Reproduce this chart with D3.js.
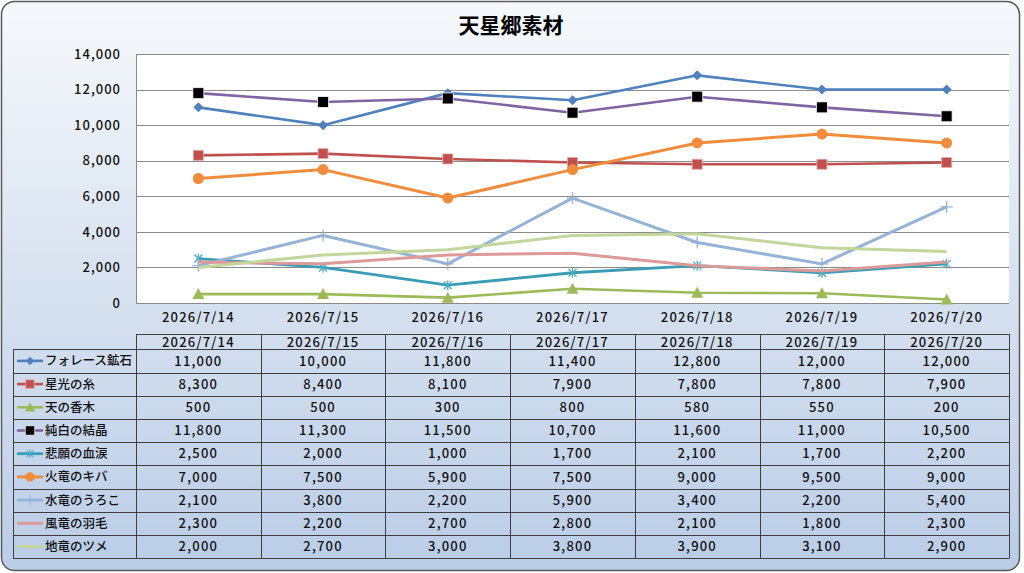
<!DOCTYPE html>
<html><head><meta charset="utf-8">
<script src="https://cdn.jsdelivr.net/npm/d3@7/dist/d3.min.js"></script>
<style>
html,body{margin:0;padding:0;background:#fff;}
svg{display:block;}
text{font-family:"Noto Sans CJK JP","Noto Sans",sans-serif;fill:#111;font-weight:500;}
</style></head>
<body>
<svg id="c" width="1024" height="573"></svg>
<script>
const title = "天星郷素材";
const dates = ["2026/7/14","2026/7/15","2026/7/16","2026/7/17","2026/7/18","2026/7/19","2026/7/20"];
const seriesNames = ["フォレース鉱石","星光の糸","天の香木","純白の結晶","悲願の血涙","火竜のキバ","水竜のうろこ","風竜の羽毛","地竜のツメ"];
const foreceOre   = [11000,10000,11800,11400,12800,12000,12000];
const starThread  = [8300,8400,8100,7900,7800,7800,7900];
const heavenWood  = [500,500,300,800,580,550,200];
const whiteCrystal= [11800,11300,11500,10700,11600,11000,10500];
const tearBlood   = [2500,2000,1000,1700,2100,1700,2200];
const fireFang    = [7000,7500,5900,7500,9000,9500,9000];
const waterScale  = [2100,3800,2200,5900,3400,2200,5400];
const windFeather = [2300,2200,2700,2800,2100,1800,2300];
const earthClaw   = [2000,2700,3000,3800,3900,3100,2900];
const yTicks = [0,2000,4000,6000,8000,10000,12000,14000];

const values = [foreceOre,starThread,heavenWood,whiteCrystal,tearBlood,fireFang,waterScale,windFeather,earthClaw];
const styles = [
  {line:"#4f81bd", mark:"diamond", fill:"#4f81bd", w:2.6},
  {line:"#c0504d", mark:"square", fill:"#c0504d", w:2.6},
  {line:"#9bbb59", mark:"triangle", fill:"#9bbb59", w:2.6},
  {line:"#8064a2", mark:"bsquare", fill:"#000000", w:2.6},
  {line:"#3a9db5", mark:"star", fill:"#4bacc6", w:2.8},
  {line:"#f08c3c", mark:"circle", fill:"#f08c3c", w:3},
  {line:"#95b3d7", mark:"plus", fill:"#95b3d7", w:3},
  {line:"#dc9a99", mark:"none", fill:"#dc9a99", w:3},
  {line:"#c3d69b", mark:"none", fill:"#c3d69b", w:3}
];

const svg = d3.select("#c");
const defs = svg.append("defs");
const g = defs.append("linearGradient").attr("id","bg").attr("x1",0).attr("y1",0).attr("x2",0).attr("y2",1);
g.append("stop").attr("offset","0%").attr("stop-color","#f6f9fc");
g.append("stop").attr("offset","45%").attr("stop-color","#dae4f1");
g.append("stop").attr("offset","100%").attr("stop-color","#bacde7");

svg.append("rect").attr("x",1.5).attr("y",1.5).attr("width",1018).attr("height",569)
  .attr("rx",13).attr("ry",13).attr("fill","url(#bg)").attr("stroke","#5a5a5a").attr("stroke-width",1.5);

svg.append("text").attr("x",511).attr("y",33).attr("text-anchor","middle")
  .attr("font-size",21).style("font-weight","bold").style("fill","#000").text(title);

const pl=136, pr=1009, pt=54, pb=303;
const x = d3.scaleBand().domain(dates).range([pl,pr]).padding(0);
const cx = d => x(d)+x.bandwidth()/2;
const y = d3.scaleLinear().domain([0,14000]).range([pb,pt]);

svg.append("rect").attr("x",pl).attr("y",pt).attr("width",pr-pl).attr("height",pb-pt).attr("fill","#fff");

svg.append("g").selectAll("line").data(yTicks).join("line")
  .attr("x1",pl).attr("x2",pr).attr("y1",d=>Math.round(y(d))+0.5).attr("y2",d=>Math.round(y(d))+0.5)
  .attr("stroke","#8a8a8a").attr("stroke-width",1);
svg.append("line").attr("x1",pl+0.5).attr("x2",pl+0.5).attr("y1",pt).attr("y2",pb+0.5).attr("stroke","#8a8a8a");

const fmt = d3.format(",");
svg.append("g").selectAll("text").data(yTicks).join("text")
  .attr("x",121).attr("y",d=>y(d)).attr("dy","0.36em").attr("text-anchor","end")
  .attr("font-size",13).style("letter-spacing","1px").text(d=>fmt(d));

svg.append("g").selectAll("text").data(dates).join("text")
  .attr("x",d=>cx(d)).attr("y",317).attr("dy","0.36em").attr("text-anchor","middle")
  .attr("font-size",13).style("letter-spacing","1.2px").text(d=>d);

function markerPath(type){
  switch(type){
    case "diamond": return "M0,-5L5,0L0,5L-5,0Z";
    case "square": return "M-5,-5H5V5H-5Z";
    case "bsquare": return "M-5.5,-5.5H5.5V5.5H-5.5Z";
    case "triangle": return "M0,-6L6,5H-6Z";
    case "star": return "M-4,-4L4,4M-4,4L4,-4M0,-5V5";
    case "plus": return "M-6,0H6M0,-6V6";
    default: return null;
  }
}
function drawMarker(sel, st){
  const p = markerPath(st.mark);
  if(st.mark==="none") return;
  if(st.mark==="circle"){
    sel.append("circle").attr("r",5.5).attr("fill",st.fill);
  } else if(st.mark==="star"||st.mark==="plus"){
    sel.append("path").attr("d",p).attr("fill","none").attr("stroke",st.fill).attr("stroke-width",1.3);
  } else if(st.mark==="bsquare"){
    sel.append("path").attr("d",p).attr("fill","#000").attr("stroke","#fff").attr("stroke-width",0.8);
  } else if(st.mark==="square"){
    sel.append("path").attr("d",p).attr("fill",st.fill).attr("stroke","#e8a8a6").attr("stroke-width",0.8);
  } else {
    sel.append("path").attr("d",p).attr("fill",st.fill);
  }
}

const line = d3.line().x((v,i)=>cx(dates[i])).y(v=>y(v));
const plot = svg.append("g");
values.forEach((vals,si)=>{
  const st = styles[si];
  const sg = plot.append("g");
  sg.append("path").attr("d",line(vals)).attr("fill","none").attr("stroke",st.line)
    .attr("stroke-width",st.w).attr("stroke-linejoin","round");
  vals.forEach((v,i)=>{
    const m = sg.append("g").attr("transform",`translate(${cx(dates[i])},${y(v)})`);
    drawMarker(m, st);
  });
});

const tTop=334, hH=15.3, rH=23.2, legL=13;
const rowY = i => tTop+hH+i*rH;
const tb = svg.append("g").attr("stroke","#3f3f3f").attr("stroke-width",1).attr("fill","none");
tb.append("line").attr("x1",pl).attr("x2",pr).attr("y1",tTop+0.5).attr("y2",tTop+0.5);
d3.range(seriesNames.length+1).forEach(i=>{
  tb.append("line").attr("x1",legL).attr("x2",pr).attr("y1",Math.round(rowY(i))+0.5).attr("y2",Math.round(rowY(i))+0.5);
});
tb.append("line").attr("x1",legL+0.5).attr("x2",legL+0.5).attr("y1",rowY(0)).attr("y2",rowY(seriesNames.length)+0.5);
dates.concat(["end"]).forEach((d,i)=>{
  const xx = i<dates.length ? x(d) : pr;
  tb.append("line").attr("x1",Math.round(xx)+0.5).attr("x2",Math.round(xx)+0.5).attr("y1",tTop).attr("y2",rowY(seriesNames.length)+0.5);
});
svg.append("g").selectAll("text").data(dates).join("text")
  .attr("x",d=>cx(d)).attr("y",tTop+hH/2+0.5).attr("dy","0.36em").attr("text-anchor","middle")
  .attr("font-size",13).style("letter-spacing","1.2px").text(d=>d);

seriesNames.forEach((name,si)=>{
  const st=styles[si];
  const yc = rowY(si)+rH/2;
  const lg = svg.append("g");
  lg.append("line").attr("x1",17).attr("x2",43).attr("y1",yc).attr("y2",yc).attr("stroke",st.line).attr("stroke-width",st.w);
  const m = lg.append("g").attr("transform",`translate(30,${yc}) scale(0.85)`);
  drawMarker(m, st);
  lg.append("text").attr("x",45).attr("y",yc).attr("dy","0.36em").attr("font-size",12.5).text(name);
  svg.append("g").selectAll("text").data(values[si]).join("text")
    .attr("x",(v,i)=>cx(dates[i])).attr("y",yc).attr("dy","0.36em").attr("text-anchor","middle")
    .attr("font-size",13).style("letter-spacing","1.2px").text(v=>fmt(v));
});
</script>
</body></html>
